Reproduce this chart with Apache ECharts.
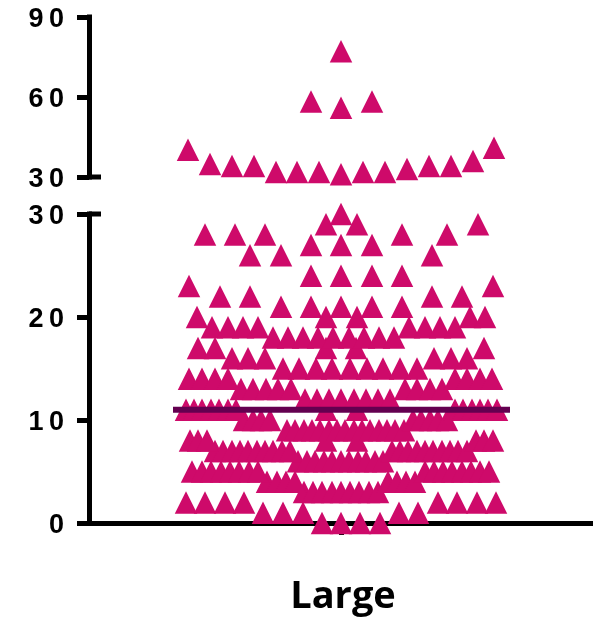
<!DOCTYPE html>
<html><head><meta charset="utf-8">
<style>html,body{margin:0;padding:0;background:#fff}#c{width:593px;height:620px}</style>
<script src="https://cdn.jsdelivr.net/npm/echarts@6/dist/echarts.min.js"></script>
</head><body><div id="c"></div>
<script>
const category = 'Large';
const medianValue = 11;
const medianSpan = [-168, 169];
const upperTicks = [30, 60, 90];
const lowerTicks = [0, 10, 20, 30];
const upperOffsets = [0, -30, 0, 31, -153, -131, -109, -87, -65, -44, -22, 0, 22, 44, 66, 88, 110, 132, 153];
const upperValues = [77.2, 58.3, 56, 58.3, 40.2, 34.9, 34.1, 34.1, 31.9, 31.9, 31.9, 31, 31.9, 31.9, 33, 34.1, 34.1, 36, 41];
const row0 = [-19, 0, 19, 39];
const row1 = [-78, -58, -38, 58, 77];
const row2 = [-155, -136, -116, -97, 97, 116, 136, 155];
const row3 = [-37, -28, -19, -9, 0, 9, 18, 28, 37];
const row4 = [-74, -64, -55, -46, 47, 56, 65, 74];
const row5 = [-149, -139, -130, -120, -111, -102, -92, -83, 84, 93, 102, 111, 121, 130, 139, 148];
const row6 = [-43, -34, -26, -17, -9, 0, 8, 17, 25, 34, 42];
const row7 = [-126, -118, -109, -101, -93, -84, -76, -68, -59, -51, 51, 59, 67, 76, 84, 92, 101, 109, 117, 126];
const row8 = [-151, -143, -134, -15, 16, 135, 143, 152];
const row9 = [-54, -46, -37, -29, -21, -12, -4, 4, 13, 21, 29, 38, 46, 54, 63];
const row10 = [-97, -88, -80, -71, 72, 80, 89, 97, 106];
const row11 = [-155, -147, -139, -130, -122, -113, -105, -15, 16, 114, 122, 131, 139, 147, 156];
const row12 = [-36, -24, -12, 0, 13, 25, 37, 49];
const row13 = [-100, -88, -75, -63, -50, 64, 76, 89, 101];
const row14 = [-152, -139, -126, -113, 114, 126, 139, 151];
const row15 = [-58, -42, -25, -9, 9, 26, 42, 59, 76];
const row16 = [-109, -93, -76, 93, 110, 126];
const row17 = [-143, -126, -15, 15, 143];
const row18 = [-68, -53, -38, -23, -8, 8, 23, 38, 53];
const row19 = [-129, -113, -98, -83, 68, 84, 99, 114];
const row20 = [-144, -15, 16, 129, 144];
const row21 = [-60, -30, 0, 31, 61];
const row22 = [-121, -91, 91, 121];
const row23 = [-152, 152];
const row24 = [-30, 0, 31, 61];
const row26 = [-91, -60, 91];
const row27 = [-30, 0, 31];
const row28 = [-136, -106, -76, 61, 106];
const row29 = [-15, 16, 137];
const row30 = [0];
const lowerRows = {0:row0,1:row1,2:row2,3:row3,4:row4,5:row5,6:row6,7:row7,8:row8,9:row9,10:row10,11:row11,12:row12,13:row13,14:row14,15:row15,16:row16,17:row17,18:row18,19:row19,20:row20,21:row21,22:row22,23:row23,24:row24,26:row26,27:row27,28:row28,29:row29,30:row30};

const lowerData = [];
Object.keys(lowerRows).forEach(v => lowerRows[v].forEach(x => lowerData.push([x, +v])));
const upperData = upperOffsets.map((x, i) => [x, upperValues[i]]);

const INK = '#000';
const PINK = '#CE0A6A';
const X_MIN = -252, X_MAX = 252, STUB = 12;
const MARK_SIZE = 22.5;
const spaced = v => '{t|' + String(v).split('').join('\u2009') + '}';
const yAxisBase = (grid, min, max, interval) => ({
  type: 'value', gridIndex: grid, min, max, interval, splitLine: {show: false},
  axisLine: {show: true, onZero: false, lineStyle: {color: INK, width: 5, cap: 'square'}},
  axisTick: {show: true, length: 12, lineStyle: {color: INK, width: 5}},
  axisLabel: {show: true, margin: 25, formatter: spaced,
    rich: {t: {color: INK, fontFamily: 'Liberation Sans', fontWeight: 'bold', fontSize: 27, padding: [6, 0, 0, 0]}}}
});
const stub = (grid, y) => ({
  type: 'line', xAxisIndex: grid, yAxisIndex: grid, silent: true, symbol: 'none', z: 1, clip: false,
  data: [[X_MIN, y], [X_MIN + STUB, y]], lineStyle: {color: INK, width: 5}
});

const chart = echarts.init(document.getElementById('c'));
chart.setOption({
  animation: false,
  backgroundColor: '#fff',
  grid: [
    {left: 89, right: 0, top: 17, height: 160},
    {left: 89, right: 0, top: 214, height: 309}
  ],
  xAxis: [
    {type: 'value', gridIndex: 0, min: X_MIN, max: X_MAX, show: false, splitLine: {show: false}},
    {type: 'value', gridIndex: 1, min: X_MIN, max: X_MAX, splitLine: {show: false},
     axisLine: {show: true, onZero: false, lineStyle: {color: INK, width: 5}},
     axisTick: {show: true, length: 12, lineStyle: {color: INK, width: 5}, customValues: [0]},
     axisLabel: {show: true, customValues: [0], margin: 55, padding: [0, 0, 0, 4], color: INK, fontFamily: 'Open Sans', fontWeight: 'bold', fontSize: 38, formatter: () => category}}
  ],
  yAxis: [yAxisBase(0, upperTicks[0], upperTicks[2], 30), yAxisBase(1, lowerTicks[0], lowerTicks[3], 10)],
  series: [
    stub(0, 30), stub(1, 30),
    {type: 'scatter', xAxisIndex: 0, yAxisIndex: 0, symbol: 'triangle', symbolSize: MARK_SIZE, clip: false, z: 3, itemStyle: {color: PINK, opacity: 1}, data: upperData},
    {type: 'scatter', xAxisIndex: 1, yAxisIndex: 1, symbol: 'triangle', symbolSize: MARK_SIZE, clip: false, z: 3, itemStyle: {color: PINK, opacity: 1}, data: lowerData},
    {type: 'line', xAxisIndex: 1, yAxisIndex: 1, symbol: 'none', z: 4, silent: true,
     data: [[medianSpan[0], medianValue], [medianSpan[1], medianValue]], lineStyle: {color: '#640050', width: 6}}
  ]
});
</script></body></html>
